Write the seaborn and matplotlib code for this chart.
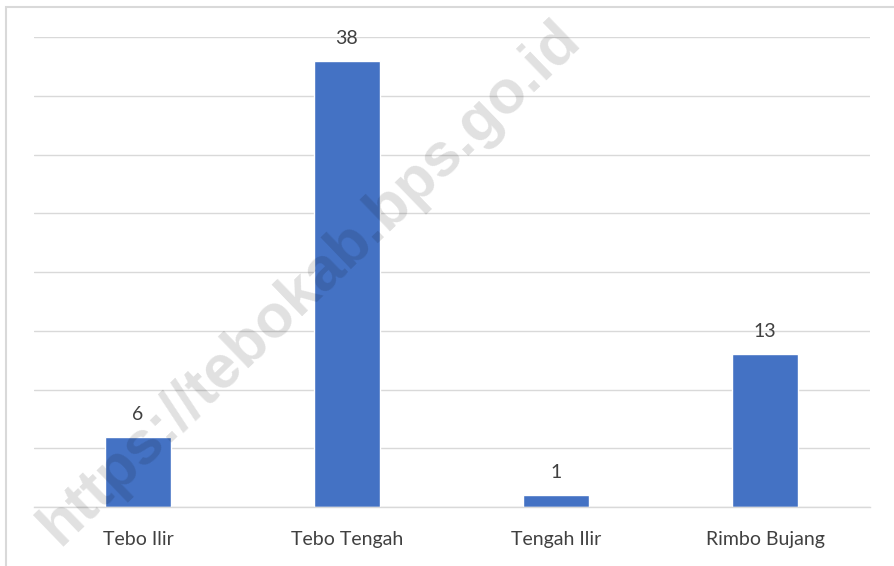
import matplotlib
matplotlib.use("Agg")
import matplotlib.pyplot as plt
import seaborn as sns
import pandas as pd
from matplotlib.patches import Rectangle

# Data
kecamatan = ["Tebo Ilir", "Tebo Tengah", "Tengah Ilir", "Rimbo Bujang"]
jumlah = [6, 38, 1, 13]

df = pd.DataFrame({"kecamatan": kecamatan, "jumlah": jumlah})

sns.set_theme(style="white")
plt.rcParams["font.family"] = ["Lato", "DejaVu Sans"]

fig = plt.figure(figsize=(8.94, 5.66), dpi=100)
ax = fig.add_axes([33.5 / 894, 59 / 566, 836 / 894, 470 / 566])

sns.barplot(data=df, x="kecamatan", y="jumlah", color="#4472C4",
            width=0.316, saturation=1, ax=ax)

ax.set_ylim(0, 40)
ax.set_yticks(range(0, 41, 5))
ax.yaxis.grid(True, color="#D9D9D9", linewidth=1)
ax.set_axisbelow(True)
ax.tick_params(axis="y", left=False, labelleft=False)
ax.tick_params(axis="x", bottom=False, pad=11, labelsize=14, labelcolor="#404040")
for s in ["top", "right", "left"]:
    ax.spines[s].set_visible(False)
ax.spines["bottom"].set_color("#D9D9D9")
ax.spines["bottom"].set_linewidth(1)
ax.set_xlabel("")
ax.set_ylabel("")

ax.bar_label(ax.containers[0], padding=10, fontsize=14, color="#404040")

# bingkai tipis di kiri dan atas
fig.patches.append(Rectangle((6 / 894, -0.2), 1.5, 1.2 - 7 / 566,
                             transform=fig.transFigure, fill=False,
                             edgecolor="#D9D9D9", linewidth=1.5))

# watermark
fig.text(310 / 894, 1 - 283 / 566, "https://tebokab.bps.go.id",
         rotation=44, ha="center", va="center", fontsize=44,
         fontweight="bold", color="black", alpha=0.12,
         family=["Liberation Sans", "DejaVu Sans"])

fig.savefig("out.png", dpi=100)
